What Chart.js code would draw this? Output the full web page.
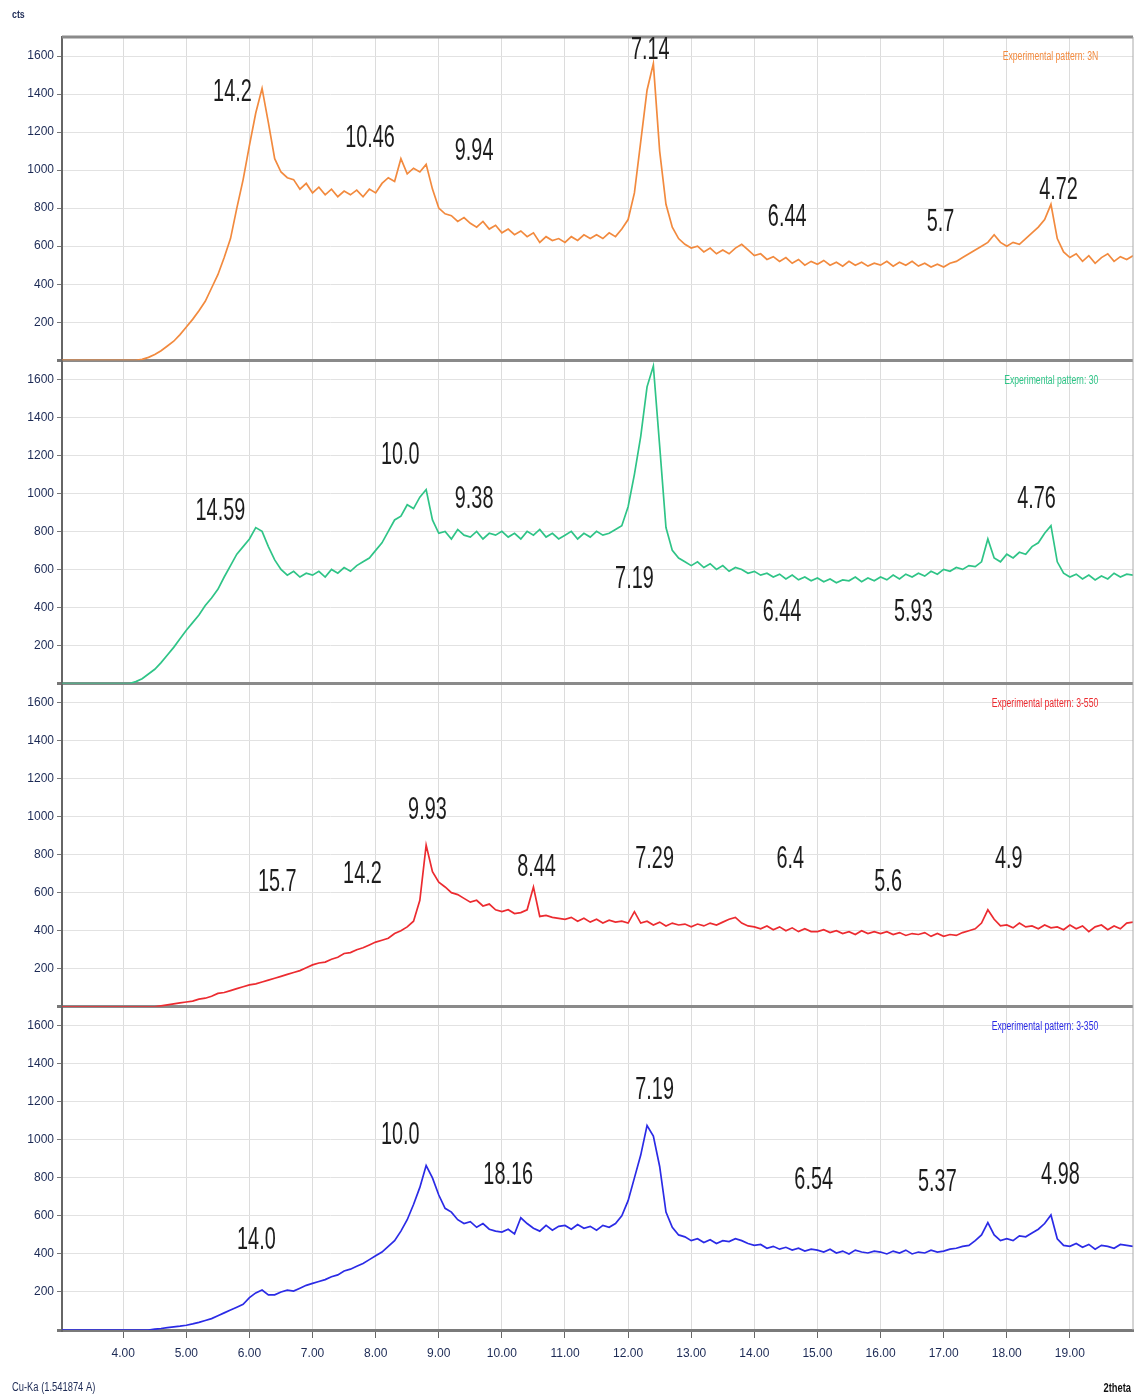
<!DOCTYPE html>
<html lang="en">
<head>
  <meta charset="UTF-8">
  <title>XRD patterns</title>
  <script src="https://cdn.jsdelivr.net/npm/chart.js"></script>
  <style>
    html, body { margin: 0; padding: 0; background: #fff; }
    canvas { display: block; }
  </style>
</head>
<body>
  <canvas id="xrd" width="1136" height="1400"></canvas>

  <script>
    // 2theta sampling (deg)
    const twoTheta = [
      3.0, 3.1, 3.2, 3.3, 3.4, 3.5, 3.6, 3.7, 3.8, 3.9,
      4.0, 4.1, 4.2, 4.3, 4.4, 4.5, 4.6, 4.7, 4.8, 4.9,
      5.0, 5.1, 5.2, 5.3, 5.4, 5.5, 5.6, 5.7, 5.8, 5.9,
      6.0, 6.1, 6.2, 6.3, 6.4, 6.5, 6.6, 6.7, 6.8, 6.9,
      7.0, 7.1, 7.2, 7.3, 7.4, 7.5, 7.6, 7.7, 7.8, 7.9,
      8.0, 8.1, 8.2, 8.3, 8.4, 8.5, 8.6, 8.7, 8.8, 8.9,
      9.0, 9.1, 9.2, 9.3, 9.4, 9.5, 9.6, 9.7, 9.8, 9.9,
      10.0, 10.1, 10.2, 10.3, 10.4, 10.5, 10.6, 10.7, 10.8, 10.9,
      11.0, 11.1, 11.2, 11.3, 11.4, 11.5, 11.6, 11.7, 11.8, 11.9,
      12.0, 12.1, 12.2, 12.3, 12.4, 12.5, 12.6, 12.7, 12.8, 12.9,
      13.0, 13.1, 13.2, 13.3, 13.4, 13.5, 13.6, 13.7, 13.8, 13.9,
      14.0, 14.1, 14.2, 14.3, 14.4, 14.5, 14.6, 14.7, 14.8, 14.9,
      15.0, 15.1, 15.2, 15.3, 15.4, 15.5, 15.6, 15.7, 15.8, 15.9,
      16.0, 16.1, 16.2, 16.3, 16.4, 16.5, 16.6, 16.7, 16.8, 16.9,
      17.0, 17.1, 17.2, 17.3, 17.4, 17.5, 17.6, 17.7, 17.8, 17.9,
      18.0, 18.1, 18.2, 18.3, 18.4, 18.5, 18.6, 18.7, 18.8, 18.9,
      19.0, 19.1, 19.2, 19.3, 19.4, 19.5, 19.6, 19.7, 19.8, 19.9,
      20.0
    ];

    // counts, one value per twoTheta step
    const counts3N = [
      0, 0, 0, 0, 0, 0, 0, 0, 0, 0,
      0, 0, 0, 5, 15, 30, 50, 75, 100, 135,
      175, 215, 260, 310, 380, 450, 540, 640, 800, 950,
      1130, 1300, 1430, 1250, 1060, 990, 960, 950, 900, 930,
      880, 910, 870, 900, 860, 890, 870, 895, 860, 900,
      880, 930, 960, 940, 1060, 980, 1010, 990, 1030, 900,
      800, 770, 760, 730, 750, 720, 700, 730, 690, 710,
      670, 690, 660, 680, 650, 670, 620, 650, 630, 640,
      620, 650, 630, 660, 640, 660, 640, 670, 650, 690,
      740, 880, 1150, 1420, 1560, 1100, 820, 700, 640, 610,
      590, 600, 570, 590, 560, 580, 560, 590, 610, 580,
      550, 560, 530, 545, 520, 540, 510, 530, 500, 520,
      505, 525, 500, 515, 495, 520, 500, 515, 495, 510,
      500, 520, 495, 515, 500, 520, 495, 510, 490, 505,
      490, 510, 520, 540, 560, 580, 600, 620, 660, 620,
      600, 620, 610, 640, 670, 700, 740, 820, 640, 570,
      540, 560, 520, 550, 510, 540, 560, 520, 545, 530,
      550
    ];
    const counts30 = [
      0, 0, 0, 0, 0, 0, 0, 0, 0, 0,
      0, 0, 10, 25, 50, 75, 110, 150, 190, 235,
      280, 320, 360, 410, 450, 495, 560, 620, 680, 720,
      760, 820, 800, 720, 650, 600, 570, 590, 560, 580,
      570, 590, 560, 600, 580, 610, 590, 620, 640, 660,
      700, 740, 800, 860, 880, 940, 920, 980, 1020, 860,
      790, 800, 760, 810, 780, 770, 800, 760, 790, 780,
      800, 770, 790, 760, 800, 780, 810, 770, 790, 760,
      780, 800, 760, 790, 770, 800, 780, 790, 810, 830,
      930, 1100, 1300, 1560, 1670, 1250, 820, 700, 660, 640,
      620, 640, 610, 630, 600, 620, 590, 610, 600, 580,
      590, 570, 580, 560, 575, 550, 570, 545, 560, 540,
      555, 535, 550, 530, 545, 540, 560, 535, 555, 540,
      560, 545, 570, 550, 575, 560, 580, 565, 590, 575,
      600, 590, 610, 600, 620, 615, 640, 760, 660, 640,
      680, 660, 690, 680, 720, 740, 790, 830, 640, 580,
      560, 575, 550, 570, 545, 565, 550, 580, 560, 575,
      570
    ];
    const counts3550 = [
      0, 0, 0, 0, 0, 0, 0, 0, 0, 0,
      0, 0, 0, 0, 0, 0, 5, 10, 15, 20,
      25, 30, 40, 45, 55, 70, 75, 85, 95, 105,
      115, 120, 130, 140, 150, 160, 170, 180, 190, 205,
      220, 230, 235, 250, 260, 280, 285, 300, 310, 325,
      340, 350, 360, 385, 400, 420, 450, 560, 850, 710,
      655, 630, 600, 590, 570, 550, 560, 530, 540, 510,
      500, 510, 490, 495, 510, 630, 475, 480, 470, 465,
      460, 470, 450, 465, 445, 460, 440, 455, 445, 450,
      440, 500, 440, 450, 430, 445, 425, 440, 430, 435,
      420, 435, 425, 440, 430, 445, 460, 470, 440, 425,
      420, 410, 425, 405, 420, 400, 415, 395, 410, 395,
      395, 405, 390, 400, 385, 395, 380, 400, 385, 395,
      385, 395, 380, 390, 375, 385, 380, 390, 370, 385,
      370, 380, 375, 390, 400, 410, 440, 510, 460, 425,
      430, 415, 440, 420, 425, 410, 430, 415, 420, 405,
      430, 410, 425, 395, 420, 430, 405, 425, 410, 440,
      445
    ];
    const counts3350 = [
      0, 0, 0, 0, 0, 0, 0, 0, 0, 0,
      0, 0, 0, 0, 0, 5, 8, 12, 16, 20,
      25, 32, 40, 50, 60, 75, 90, 105, 120, 135,
      170, 195, 210, 185, 185, 200, 210, 205, 220, 235,
      245, 255, 265, 280, 290, 310, 320, 335, 350, 370,
      390, 410, 440, 470, 520, 580, 660, 750, 865, 800,
      710, 640, 620, 580, 560, 570, 540, 560, 530, 520,
      515, 530, 505, 590, 560, 535, 520, 550, 525, 545,
      550, 530, 555, 535, 545, 525, 550, 540, 560, 600,
      680, 800, 920, 1075, 1020, 860, 620, 540, 500, 490,
      470, 480, 460, 475, 455, 470, 465, 480, 470, 455,
      445, 450, 430, 440, 425, 435, 420, 430, 415, 425,
      420, 410, 425, 405, 415, 400, 420, 410, 405, 415,
      410, 400, 415, 405, 420, 400, 410, 405, 420, 410,
      415, 425, 430, 440, 445, 470, 500, 565, 500, 470,
      480, 470, 495, 490, 510, 530, 560, 605, 480, 445,
      440, 455, 435, 450, 425, 445, 440, 430, 450, 445,
      440
    ];

    const sampleNames = ['Experimental pattern: 3N', 'Experimental pattern: 30',
                         'Experimental pattern: 3-550', 'Experimental pattern: 3-350'];

    // d-spacing labels and their anchor (2theta, counts) in each panel
    const peakText3N = ['14.2', '10.46', '9.94', '7.14', '6.44', '5.7', '4.72'];
    const peakAt3N = [[5.73, 1407], [7.91, 1165], [9.56, 1100], [12.35, 1627], [14.52, 750], [16.95, 725], [18.82, 893]];
    const peakText30 = ['14.59', '10.0', '9.38', '7.19', '6.44', '5.93', '4.76'];
    const peakAt30 = [[5.54, 903], [8.39, 1197], [9.56, 966], [12.1, 546], [14.44, 373], [16.52, 373], [18.47, 966]];
    const peakText3550 = ['15.7', '14.2', '9.93', '8.44', '7.29', '6.4', '5.6', '4.9'];
    const peakAt3550 = [[6.44, 656], [7.79, 698], [8.82, 1034], [10.55, 730], [12.42, 777], [14.57, 777], [16.12, 656], [18.03, 777]];
    const peakText3350 = ['14.0', '10.0', '18.16', '7.19', '6.54', '5.37', '4.98'];
    const peakAt3350 = [[6.11, 473], [8.39, 1024], [10.1, 814], [12.42, 1260], [14.94, 788], [16.9, 777], [18.85, 814]];

    const xTicks = [4, 5, 6, 7, 8, 9, 10, 11, 12, 13, 14, 15, 16, 17, 18, 19];
    const yTicks = [0, 200, 400, 600, 800, 1000, 1200, 1400, 1600];

    const colors = ['#f28a3e', '#2fc487', '#ec2b30', '#2b2be6'];
    const panels = [
      { id: 'y1', data: counts3N, text: peakText3N, at: peakAt3N },
      { id: 'y2', data: counts30, text: peakText30, at: peakAt30 },
      { id: 'y3', data: counts3550, text: peakText3550, at: peakAt3550 },
      { id: 'y4', data: counts3350, text: peakText3350, at: peakAt3350 }
    ];

    const narrow = "'Liberation Sans Narrow', 'Liberation Sans', Arial, sans-serif";

    function yScale() {
      return {
        type: 'linear',
        position: 'left',
        stack: 'panels',
        stackWeight: 1,
        min: 0,
        max: 1700,
        afterBuildTicks: s => { s.ticks = yTicks.map(v => ({ value: v })); },
        afterFit: s => { s.width = 62; },
        ticks: {
          callback: v => v === 0 ? '' : v,
          color: '#1c2a55',
          font: { family: narrow, size: 12 },
          padding: 3
        },
        grid: {
          color: c => c.tick && c.tick.value === 0 ? '#8a8a8a' : '#e2e2e2',
          lineWidth: c => c.tick && c.tick.value === 0 ? 3 : 1,
          tickColor: '#777',
          tickLength: 5
        },
        border: { color: '#666', width: 2 }
      };
    }

    // condensed text helper
    function squeezed(ctx, str, x, y, size, sx, align, color, weight) {
      ctx.save();
      ctx.font = (weight || '') + ' ' + size + "px 'Liberation Sans', Arial, sans-serif";
      ctx.fillStyle = color;
      ctx.textBaseline = 'middle';
      ctx.textAlign = align;
      ctx.translate(x, y);
      ctx.scale(sx, 1);
      ctx.fillText(str, 0, 0);
      ctx.restore();
    }

    const decorations = {
      id: 'decorations',
      afterDraw(chart) {
        const { ctx, chartArea } = chart;
        const xs = chart.scales.x;
        // frame
        ctx.save();
        ctx.strokeStyle = '#8a8a8a';
        ctx.lineWidth = 3;
        ctx.beginPath();
        ctx.moveTo(chartArea.left, chartArea.top);
        ctx.lineTo(chartArea.right, chartArea.top);
        ctx.stroke();
        ctx.strokeStyle = '#aaa';
        ctx.lineWidth = 1;
        ctx.beginPath();
        ctx.moveTo(chartArea.right, chartArea.top);
        ctx.lineTo(chartArea.right, chartArea.bottom);
        ctx.stroke();
        ctx.restore();

        panels.forEach((p, i) => {
          const ys = chart.scales[p.id];
          p.text.forEach((t, k) => {
            squeezed(ctx, t, xs.getPixelForValue(p.at[k][0]), ys.getPixelForValue(p.at[k][1]),
                     31, 0.64, 'center', '#1d1d1d');
          });
          squeezed(ctx, sampleNames[i], xs.getPixelForValue(19.45), ys.getPixelForValue(1595),
                   12, 0.72, 'right', colors[i]);
        });

        squeezed(ctx, 'cts', 12, 15, 11, 0.8, 'left', '#1c2a55', 'bold');
        squeezed(ctx, 'Cu-Ka (1.541874 A)', 12, 1388, 12, 0.78, 'left', '#1c2a55');
        squeezed(ctx, '2theta', 1131, 1388, 13, 0.72, 'right', '#111', 'bold');
      }
    };

    const scales = {
      x: {
        type: 'linear',
        position: 'bottom',
        min: 3.03,
        max: 20,
        afterBuildTicks: s => { s.ticks = xTicks.map(v => ({ value: v })); },
        afterFit: s => { s.height = 70; },
        ticks: {
          callback: v => v.toFixed(2),
          color: '#1c2a55',
          font: { family: narrow, size: 12 },
          padding: 8,
          maxRotation: 0
        },
        grid: { color: '#dcdcdc', tickColor: '#666', tickLength: 8 },
        border: { color: '#7a7a7a', width: 3 }
      }
    };
    // bottom panel first so the first sample sits on top of the stack
    for (let i = panels.length - 1; i >= 0; i--) scales[panels[i].id] = yScale();

    new Chart(document.getElementById('xrd'), {
      type: 'line',
      data: {
        datasets: panels.map((p, i) => ({
          label: sampleNames[i],
          yAxisID: p.id,
          data: twoTheta.map((t, k) => ({ x: t, y: p.data[k] })),
          borderColor: colors[i],
          borderWidth: 1.7,
          pointRadius: 0,
          tension: 0,
          fill: false
        }))
      },
      options: {
        responsive: false,
        animation: false,
        devicePixelRatio: 1,
        layout: { padding: { top: 37, right: 3, left: 0, bottom: 0 } },
        plugins: { legend: { display: false }, tooltip: { enabled: false } },
        scales
      },
      plugins: [decorations]
    });
  </script>
</body>
</html>
